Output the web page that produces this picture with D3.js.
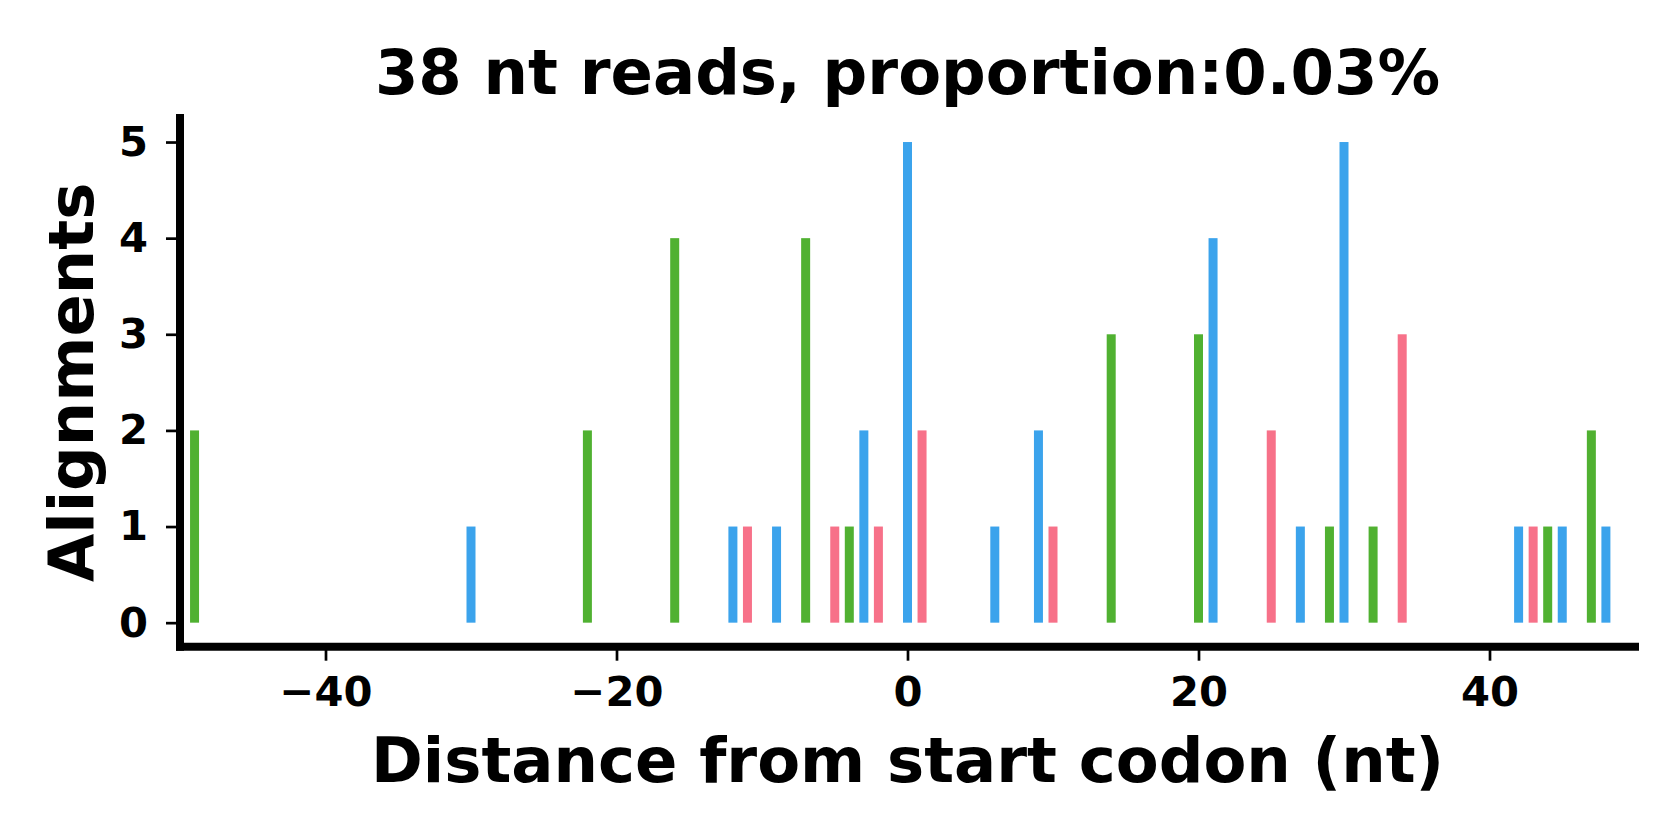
<!DOCTYPE html>
<html>
<head>
<meta charset="utf-8">
<script src="https://cdn.jsdelivr.net/npm/d3@7"></script>
<style>
  html, body { margin: 0; padding: 0; background: #fff; }
  svg { display: block; font-family: "DejaVu Sans", sans-serif; font-weight: bold; }
</style>
</head>
<body>
<svg id="chart"></svg>
<script>
// read positions (nt from start codon) and alignment counts
const positions = [-49, -30, -22, -16, -12, -11, -9, -7, -5, -4, -3, -2, 0, 1, 6, 9, 10,
                   14, 20, 21, 25, 27, 29, 30, 32, 34, 42, 43, 44, 45, 47, 48];
const counts    = [2, 1, 2, 4, 1, 1, 1, 4, 1, 1, 2, 1, 5, 2, 1, 2, 1,
                   3, 3, 4, 2, 1, 1, 5, 1, 3, 1, 1, 1, 1, 2, 1];
// reading frame colours: frame 0, 1, 2
const frameColors = ["#3ba3ec", "#f77189", "#50b131"];
const xTicks = [-40, -20, 0, 20, 40];
const yTicks = [0, 1, 2, 3, 4, 5];
const title = "38 nt reads, proportion:0.03%";

const width = 1680, height = 840;
const margin = { left: 180, right: 45, top: 118, bottom: 193.3 };
const labelSize = 62.5;

const svg = d3.select("#chart").attr("width", width).attr("height", height);

const x = d3.scaleLinear().domain([-50, 50]).range([margin.left, width - margin.right]);
const y = d3.scaleLinear().domain([-0.25, 5.25]).range([height - margin.bottom, margin.top]);

const bars = positions.map((p, i) => ({ pos: p, n: counts[i], frame: ((p % 3) + 3) % 3 }));
const barW = 9;

svg.append("g")
    .attr("class", "bars")
    .selectAll("rect")
    .data(bars)
    .join("rect")
    .attr("x", d => x(d.pos) - barW / 2)
    .attr("y", d => y(d.n))
    .attr("width", barW)
    .attr("height", d => y(0) - y(d.n))
    .attr("fill", d => frameColors[d.frame]);

// y axis
const yAxis = svg.append("g")
    .attr("transform", `translate(${margin.left},0)`)
    .call(d3.axisLeft(y).tickValues(yTicks).tickFormat(d3.format("d")).tickSize(14).tickPadding(18));
yAxis.select(".domain").remove();
yAxis.selectAll(".tick line").attr("stroke", "#000").attr("stroke-width", 2.7);
yAxis.selectAll(".tick text")
    .attr("font-size", 41.7)
    .attr("font-family", "DejaVu Sans")
    .attr("font-weight", "bold")
    .attr("fill", "#000");

// x axis
const xAxis = svg.append("g")
    .attr("transform", `translate(0,${height - margin.bottom})`)
    .call(d3.axisBottom(x).tickValues(xTicks).tickFormat(d3.format("d")).tickSize(14).tickPadding(16));
xAxis.select(".domain").remove();
xAxis.selectAll(".tick line").attr("stroke", "#000").attr("stroke-width", 2.7);
xAxis.selectAll(".tick text")
    .attr("font-size", 41.7)
    .attr("font-family", "DejaVu Sans")
    .attr("font-weight", "bold")
    .attr("fill", "#000");

// spines
svg.append("line")
    .attr("x1", margin.left).attr("x2", margin.left)
    .attr("y1", margin.top).attr("y2", height - margin.bottom)
    .attr("stroke", "#000").attr("stroke-width", 8).attr("stroke-linecap", "square");
svg.append("line")
    .attr("x1", margin.left).attr("x2", width - margin.right)
    .attr("y1", height - margin.bottom).attr("y2", height - margin.bottom)
    .attr("stroke", "#000").attr("stroke-width", 8).attr("stroke-linecap", "square");

const cx = (margin.left + width - margin.right) / 2;
const cy = (margin.top + height - margin.bottom) / 2;

svg.append("text")
    .attr("x", cx).attr("y", 94)
    .attr("text-anchor", "middle")
    .attr("font-size", labelSize)
    .text(title);

svg.append("text")
    .attr("x", cx).attr("y", 782)
    .attr("text-anchor", "middle")
    .attr("font-size", labelSize)
    .text("Distance from start codon (nt)");

svg.append("text")
    .attr("transform", `translate(93,${cy}) rotate(-90)`)
    .attr("text-anchor", "middle")
    .attr("font-size", labelSize)
    .text("Alignments");
</script>
</body>
</html>
